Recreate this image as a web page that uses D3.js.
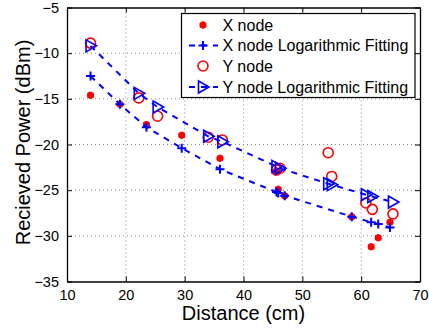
<!DOCTYPE html>
<html>
<head>
<meta charset="utf-8">
<script src="https://cdn.jsdelivr.net/npm/d3@7"></script>
<style>
  body { margin: 0; background: #fff; }
  svg text { font-family: "Liberation Sans", Arial, sans-serif; fill: #000; }
  .grid line { stroke: #888; stroke-dasharray: 1,3; stroke-width: 1; }
</style>
</head>
<body>
<div id="chart"></div>
<script>
// X node measurements and fitted values (same distances)
const xNodeDist  = [14, 19, 23.5, 29.5, 36, 45.6, 45.9, 47, 58.4, 61.7, 62.9, 64.9];
const xNodePower = [-14.6, -15.6, -17.8, -19.0, -21.5, -22.9, -24.9, -25.6, -27.9, -31.2, -30.2, -28.5];
const xFitPower  = [-12.5, -15.6, -18.1, -20.4, -22.7, -25.2, -25.3, -25.6, -27.9, -28.5, -28.7, -29.1];

// Y node measurements and fitted values
const yNodeDist  = [14, 22.2, 25.4, 34, 36.4, 45.6, 46.2, 54.4, 55, 60.8, 61.9, 65.4];
const yNodePower = [-8.9, -14.9, -16.9, -19.2, -19.5, -22.8, -22.6, -20.9, -23.5, -26.4, -27.1, -27.6];
const yFitPower  = [-9.2, -14.4, -15.9, -19.1, -19.7, -22.4, -22.6, -24.3, -24.4, -25.5, -25.7, -26.3];

const xTicks = [10, 20, 30, 40, 50, 60, 70];
const yTicks = [-5, -10, -15, -20, -25, -30, -35];
const legendLabels = ["X node", "X node Logarithmic Fitting", "Y node", "Y node Logarithmic Fitting"];

const W = 429, H = 329;
const m = { left: 67, right: 9, top: 7.5, bottom: 47.5 };

const svg = d3.select("#chart").append("svg")
    .attr("width", W).attr("height", H);

const x = d3.scaleLinear().domain([10, 70]).range([m.left, W - m.right]);
const y = d3.scaleLinear().domain([-35, -5]).range([H - m.bottom, m.top]);

const red = "#ff0000", blue = "#0000ff";

// grid
const grid = svg.append("g").attr("class", "grid");
grid.selectAll(".gx").data(xTicks.slice(1, -1)).enter().append("line")
    .attr("x1", d => x(d)).attr("x2", d => x(d))
    .attr("y1", y(-35)).attr("y2", y(-5));
grid.selectAll(".gy").data(yTicks.slice(1, -1)).enter().append("line")
    .attr("x1", x(10)).attr("x2", x(70))
    .attr("y1", d => y(d)).attr("y2", d => y(d));

// axes with inward ticks on all four sides
const fmt = d => d < 0 ? "\u2212" + Math.abs(d) : String(d);
const axB = svg.append("g").attr("transform", `translate(0,${y(-35)})`)
    .call(d3.axisBottom(x).tickValues(xTicks).tickSizeInner(-5).tickSizeOuter(0).tickPadding(8).tickFormat(fmt));
const axL = svg.append("g").attr("transform", `translate(${x(10)},0)`)
    .call(d3.axisLeft(y).tickValues(yTicks).tickSizeInner(-5).tickSizeOuter(0).tickPadding(8).tickFormat(fmt));
const axT = svg.append("g").attr("transform", `translate(0,${y(-5)})`)
    .call(d3.axisTop(x).tickValues(xTicks).tickSizeInner(-5).tickSizeOuter(0).tickFormat(""));
const axR = svg.append("g").attr("transform", `translate(${x(70)},0)`)
    .call(d3.axisRight(y).tickValues(yTicks).tickSizeInner(-5).tickSizeOuter(0).tickFormat(""));
[axB, axL, axT, axR].forEach(a => {
    a.select(".domain").attr("stroke", "#000").attr("stroke-width", 1.3);
    a.selectAll(".tick line").attr("stroke", "#000");
    a.selectAll("text").style("font-size", "14.5px");
});

// axis titles
svg.append("text").attr("x", (x(10) + x(70)) / 2).attr("y", 320)
    .attr("text-anchor", "middle").style("font-size", "20px").text("Distance (cm)");
svg.append("text").attr("transform", `translate(30,${(y(-35) + y(-5)) / 2 - 2}) rotate(-90)`)
    .attr("text-anchor", "middle").style("font-size", "20px").text("Recieved Power (dBm)");

const plot = svg.append("g");

// marker helpers
function starMark(g, cx, cy) {
    g.append("circle").attr("cx", cx).attr("cy", cy).attr("r", 3.5).attr("fill", red);
    g.append("path").attr("transform", `translate(${cx},${cy})`)
        .attr("d", d3.symbol().type(d3.symbolAsterisk).size(34)())
        .attr("stroke", red).attr("stroke-width", 2).attr("fill", "none");
}
function plusMark(g, cx, cy) {
    g.append("path").attr("transform", `translate(${cx},${cy})`)
        .attr("d", "M-4.5,0H4.5M0,-4.5V4.5")
        .attr("stroke", blue).attr("stroke-width", 2).attr("fill", "none");
}
function circleMark(g, cx, cy) {
    g.append("circle").attr("cx", cx).attr("cy", cy).attr("r", 5)
        .attr("stroke", red).attr("stroke-width", 1.6).attr("fill", "none");
}
function triMark(g, cx, cy) {
    g.append("path").attr("transform", `translate(${cx},${cy})`)
        .attr("d", "M-4.5,-6L6,0L-4.5,6Z")
        .attr("stroke", blue).attr("stroke-width", 1.6).attr("fill", "none");
}

const line = d3.line().x(d => x(d[0])).y(d => y(d[1]));

// X node
const xFit = d3.zip(xNodeDist, xFitPower).sort((a, b) => a[0] - b[0]);
d3.zip(xNodeDist, xNodePower).forEach(p => starMark(plot, x(p[0]), y(p[1])));
plot.append("path").attr("d", line(xFit)).attr("fill", "none")
    .attr("stroke", blue).attr("stroke-width", 2).attr("stroke-dasharray", "6,6");
xFit.forEach(p => plusMark(plot, x(p[0]), y(p[1])));

// Y node
const yFit = d3.zip(yNodeDist, yFitPower).sort((a, b) => a[0] - b[0]);
d3.zip(yNodeDist, yNodePower).forEach(p => circleMark(plot, x(p[0]), y(p[1])));
plot.append("path").attr("d", line(yFit)).attr("fill", "none")
    .attr("stroke", blue).attr("stroke-width", 2).attr("stroke-dasharray", "6,6");
yFit.forEach(p => triMark(plot, x(p[0]), y(p[1])));

// legend
const lg = svg.append("g");
lg.append("rect").attr("x", 181.5).attr("y", 13.5).attr("width", 233.5).attr("height", 84)
    .attr("fill", "#fff").attr("stroke", "#000").attr("stroke-width", 1.2);
const rowY = [25, 45.5, 66, 87];
legendLabels.forEach((lab, i) => {
    const cy = rowY[i];
    if (i === 1 || i === 3) {
        lg.append("line").attr("x1", 188).attr("x2", 218).attr("y1", cy).attr("y2", cy)
            .attr("stroke", blue).attr("stroke-width", 2).attr("stroke-dasharray", "6,6")
            .attr("stroke-dashoffset", -1);
    }
    if (i === 0) starMark(lg, 203, cy);
    if (i === 1) plusMark(lg, 203, cy);
    if (i === 2) circleMark(lg, 203, cy);
    if (i === 3) triMark(lg, 203, cy);
    lg.append("text").attr("x", 222.5).attr("y", cy + 5.5).style("font-size", "16px").text(lab);
});
</script>
</body>
</html>
